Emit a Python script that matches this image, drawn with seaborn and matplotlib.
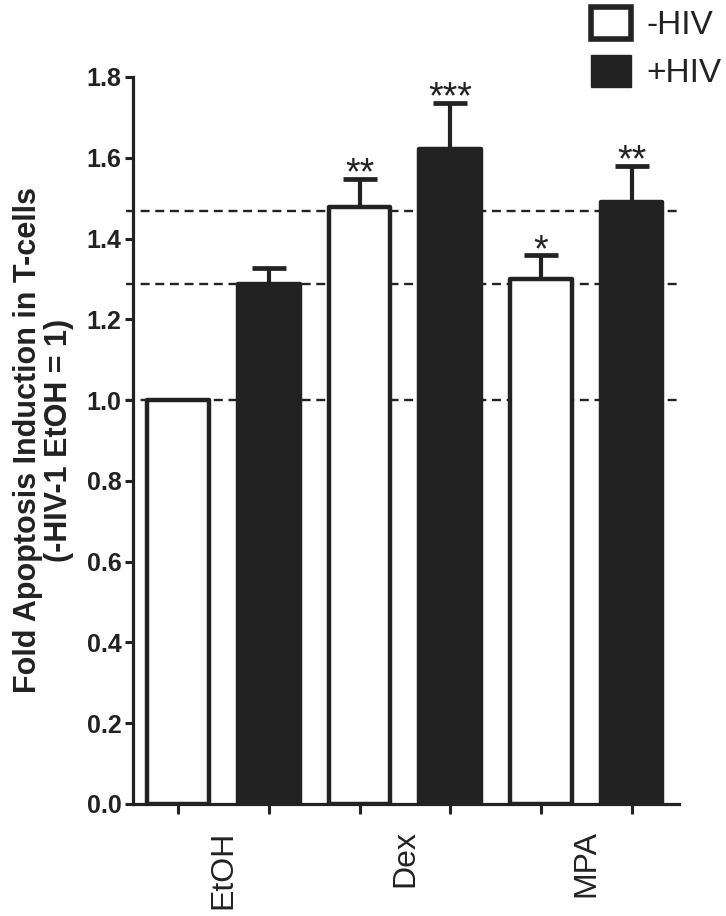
import matplotlib
matplotlib.use("Agg")
import matplotlib.pyplot as plt
from matplotlib.patches import Patch
import seaborn as sns
import numpy as np
import pandas as pd

# ---------------------------------------------------------------------------
# data
# ---------------------------------------------------------------------------
treatments = ["EtOH", "Dex", "MPA"]
conditions = ["-HIV", "+HIV"]
minus_hiv = [1.00, 1.478, 1.30]
plus_hiv = [1.287, 1.622, 1.49]
minus_err = [0.0, 0.07, 0.058]
plus_err = [0.04, 0.113, 0.09]
minus_stars = ["", "**", "*"]
plus_stars = ["", "***", "**"]
ref_lines = [1.0, 1.287, 1.468]

INK = "#222222"

rows = []
for i, t in enumerate(treatments):
    rows.append(dict(slot=f"{t} -HIV", treatment=t, HIV="-HIV",
                     value=minus_hiv[i], err=minus_err[i], stars=minus_stars[i]))
    rows.append(dict(slot=f"{t} +HIV", treatment=t, HIV="+HIV",
                     value=plus_hiv[i], err=plus_err[i], stars=plus_stars[i]))
df = pd.DataFrame(rows)

# ---------------------------------------------------------------------------
# style
# ---------------------------------------------------------------------------
sns.set_theme(style="ticks")
plt.rcParams["font.family"] = ["Liberation Sans", "DejaVu Sans"]
plt.rcParams["axes.edgecolor"] = INK
plt.rcParams["axes.linewidth"] = 2.3

fig = plt.figure(figsize=(7.26, 9.16), dpi=100)
ax = fig.add_axes([0.183, 0.1223, 0.752, 0.7937])

# reference dashed lines behind the bars
for y in ref_lines:
    ax.axhline(y, xmin=-0.012, xmax=1.0, color=INK, lw=1.7,
               dashes=(3.8, 2.4), zorder=0, clip_on=False)

sns.barplot(data=df, x="slot", y="value", hue="HIV", order=df["slot"],
            hue_order=conditions, dodge=False, errorbar=None,
            palette={"-HIV": "white", "+HIV": INK},
            edgecolor=INK, linewidth=3.2, width=0.68, legend=False,
            ax=ax, zorder=2)
for p in ax.patches:
    p.set_joinstyle("round")

xpos = np.arange(len(df))
lower = np.zeros(len(df))
ax.errorbar(xpos, df["value"], yerr=[lower, df["err"]], fmt="none",
            ecolor=INK, elinewidth=3.0, capsize=12, capthick=3.4, zorder=1)

# significance stars just above the caps
for x, v, e, s in zip(xpos, df["value"], df["err"], df["stars"]):
    if s:
        ax.annotate(s, (x, v + e), xytext=(0, -4), textcoords="offset points",
                    ha="center", va="baseline", fontsize=27, color=INK)

# axes
ax.set_xlim(-0.5, 5.52)
ax.set_ylim(0, 1.8)
ax.set_yticks(np.arange(0, 1.81, 0.2))
ax.set_yticklabels([f"{v:.1f}" for v in np.arange(0, 1.81, 0.2)],
                   fontsize=18, fontweight="bold", color=INK)
ax.tick_params(axis="y", length=6, width=2.2, color=INK, pad=2)

ax.set_xticks(xpos)
ax.set_xticklabels([""] * len(xpos))
ax.tick_params(axis="x", which="major", length=7, width=2.2, color=INK)
ax.set_xticks([0.5, 2.5, 4.5], minor=True)
ax.set_xticklabels(treatments, minor=True, rotation=90, fontsize=23,
                   color=INK, va="top", ha="center")
ax.tick_params(axis="x", which="minor", length=0, pad=19)
ax.set_xlabel("")

ax.set_ylabel("Fold Apoptosis Induction in T-cells\n(-HIV-1 EtOH = 1)",
              fontsize=22, fontweight="bold", color=INK, linespacing=1.05)
ax.yaxis.set_label_coords(-0.108, 0.5)
sns.despine(ax=ax)

# legend outside, top right
handles = [Patch(facecolor="white", edgecolor=INK, linewidth=4),
           Patch(facecolor=INK, edgecolor=INK, linewidth=1)]
fig.legend(handles, conditions, loc="upper right",
           bbox_to_anchor=(1.035, 1.025), frameon=False, fontsize=24,
           handlelength=1.2, handleheight=1.1, handletextpad=0.45,
           labelspacing=0.4, labelcolor=INK)

fig.savefig("out.png", dpi=100, facecolor="white")
